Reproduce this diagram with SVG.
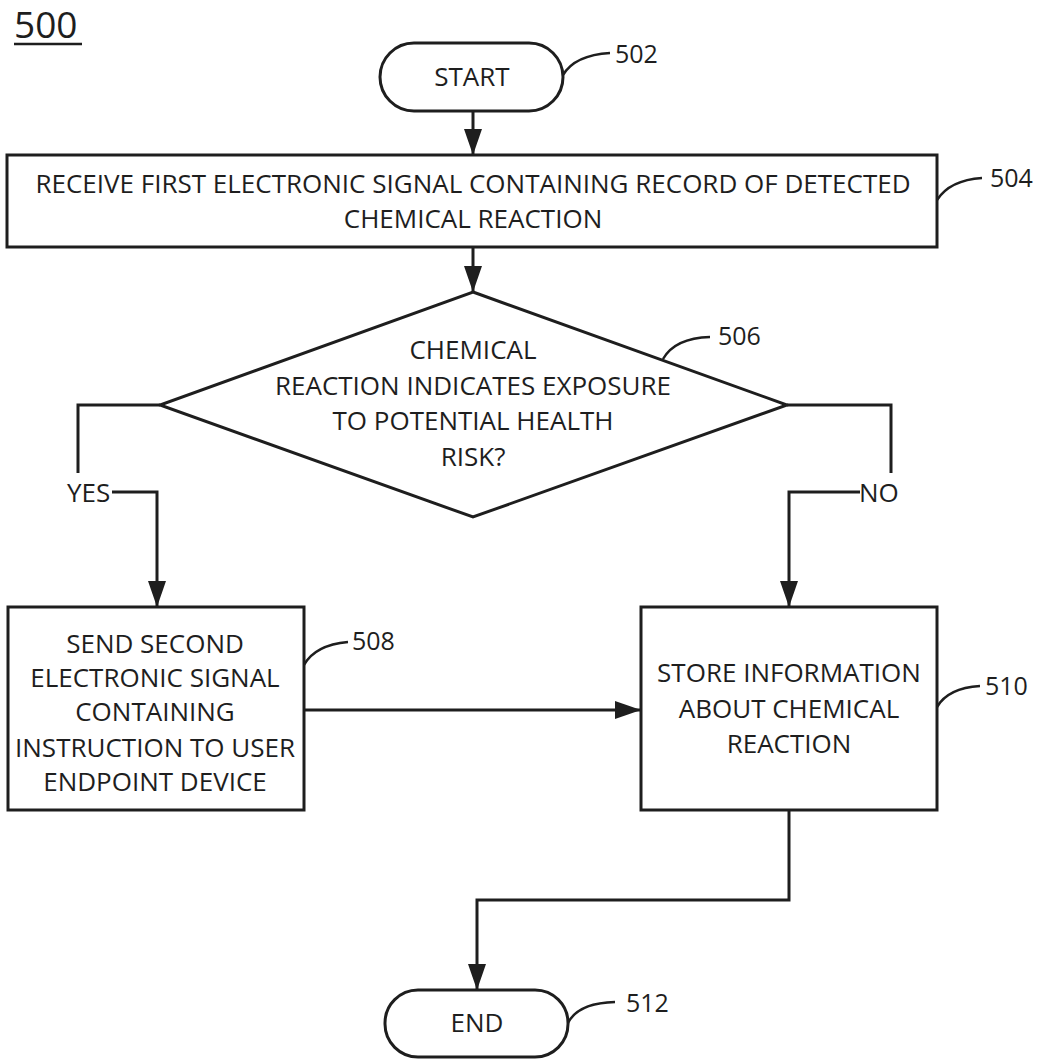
<svg xmlns="http://www.w3.org/2000/svg" width="1038" height="1059" viewBox="0 0 1038 1059">
<style>
text{font-family:"Open Sans","Noto Sans","DejaVu Sans",sans-serif;font-size:26px;fill:#1e1e1e}
.c{text-anchor:middle}
.lbl{font-size:25px}
.shape{fill:#fff;stroke:#1e1e1e;stroke-width:3}
.conn{fill:none;stroke:#1e1e1e;stroke-width:3}
.lead{fill:none;stroke:#1e1e1e;stroke-width:2.5}
</style>
<defs>
<marker id="arr" viewBox="0 0 26 18" refX="26" refY="9" markerWidth="26" markerHeight="18" markerUnits="userSpaceOnUse" orient="auto">
<path d="M0,0 L26,9 L0,18 z" fill="#1e1e1e"/>
</marker>
</defs>
<rect width="1038" height="1059" fill="#fff"/>
<g id="title">
<text x="14" y="38" style="font-size:37px">500</text>
<line x1="14" y1="44" x2="82" y2="44" stroke="#1e1e1e" stroke-width="2.5"/>
</g>
<g id="connectors">
<path class="conn" d="M473,111 L473,155" marker-end="url(#arr)"/>
<path class="conn" d="M473,247 L473,292" marker-end="url(#arr)"/>
<path class="conn" d="M160,405 L78,405 L78,473"/>
<path class="conn" d="M112,492 L157,492 L157,607" marker-end="url(#arr)"/>
<path class="conn" d="M787,405 L891,405 L891,473"/>
<path class="conn" d="M860,492 L789,492 L789,607" marker-end="url(#arr)"/>
<path class="conn" d="M304,710 L641,710" marker-end="url(#arr)"/>
<path class="conn" d="M789,810 L789,900 L477,900 L477,990" marker-end="url(#arr)"/>
<text x="67" y="502">YES</text>
<text x="859" y="502">NO</text>
</g>
<g id="n502">
<rect class="shape" x="380" y="43" width="183" height="68" rx="34"/>
<text class="c" x="472" y="86">START</text>
<path class="lead" d="M563,75 Q575,55 610,53"/>
<text class="lbl" x="615" y="63">502</text>
</g>
<g id="n504">
<rect class="shape" x="7" y="155" width="930" height="92"/>
<text class="c" x="473" y="193">RECEIVE FIRST ELECTRONIC SIGNAL CONTAINING RECORD OF DETECTED</text>
<text class="c" x="473" y="228">CHEMICAL REACTION</text>
<path class="lead" d="M937,200 Q950,180 982,178"/>
<text class="lbl" x="990" y="187">504</text>
</g>
<g id="n506">
<polygon class="shape" points="473,292 787,405 473,517 160,405"/>
<text class="c" x="473" y="359">CHEMICAL</text>
<text class="c" x="473" y="395">REACTION INDICATES EXPOSURE</text>
<text class="c" x="473" y="430">TO POTENTIAL HEALTH</text>
<text class="c" x="473" y="466">RISK?</text>
<path class="lead" d="M663,359 Q675,338 710,337"/>
<text class="lbl" x="718" y="345">506</text>
</g>
<g id="n508">
<rect class="shape" x="8" y="607" width="296" height="203"/>
<text class="c" x="155" y="653">SEND SECOND</text>
<text class="c" x="155" y="687">ELECTRONIC SIGNAL</text>
<text class="c" x="155" y="721">CONTAINING</text>
<text class="c" x="155" y="757">INSTRUCTION TO USER</text>
<text class="c" x="155" y="791">ENDPOINT DEVICE</text>
<path class="lead" d="M304,665 Q315,645 348,642"/>
<text class="lbl" x="352" y="650">508</text>
</g>
<g id="n510">
<rect class="shape" x="641" y="607" width="296" height="203"/>
<text class="c" x="789" y="682">STORE INFORMATION</text>
<text class="c" x="789" y="718">ABOUT CHEMICAL</text>
<text class="c" x="789" y="753">REACTION</text>
<path class="lead" d="M937,707 Q948,688 980,686"/>
<text class="lbl" x="985" y="695">510</text>
</g>
<g id="n512">
<rect class="shape" x="385" y="990" width="183" height="67" rx="33"/>
<text class="c" x="477" y="1032">END</text>
<path class="lead" d="M568,1023 Q578,1003 615,1002"/>
<text class="lbl" x="626" y="1012">512</text>
</g>
</svg>
